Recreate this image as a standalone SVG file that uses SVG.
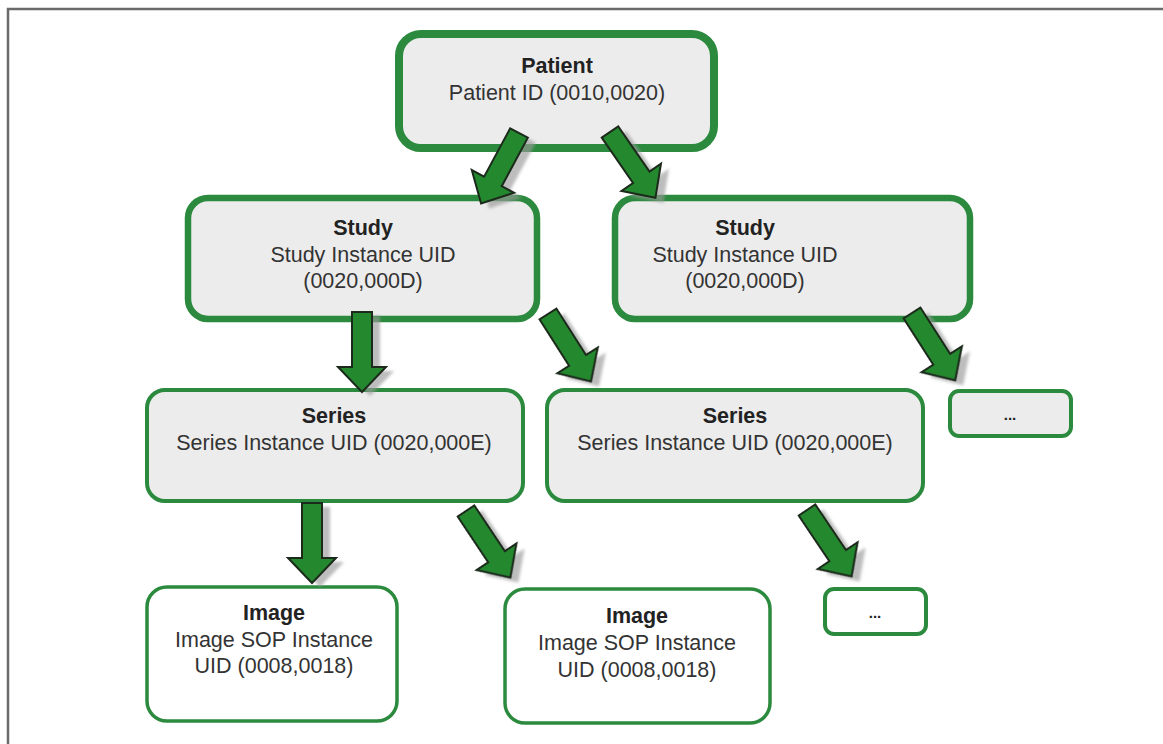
<svg xmlns="http://www.w3.org/2000/svg" xmlns:xlink="http://www.w3.org/1999/xlink" width="1163" height="744" viewBox="0 0 1163 744">
<style>
.box{fill:#ececec;stroke:#2b8a3e}
.wbox{fill:#ffffff;stroke:#2b8a3e}
.t{font-family:"Liberation Sans",Arial,sans-serif;font-size:21.5px;fill:#333;text-anchor:middle}
.b{font-weight:bold;fill:#222}
.arr{fill:#24892e;stroke:#1b2a1b;stroke-width:2;stroke-linejoin:miter}
.sh{fill:#9a9a9a;opacity:0.65}
</style>
<defs>
<polygon id="a" points="-10,0 10,0 10,55 24,55 0,80 -24,55 -10,55"/>
<filter id="blur" x="-20%" y="-20%" width="140%" height="140%"><feGaussianBlur stdDeviation="1.5"/></filter>
</defs>
<rect width="1163" height="744" fill="#ffffff"/>
<path d="M8,744 V9 H1163" fill="none" stroke="#6a6a6a" stroke-width="2.5"/>

<g id="patient">
<rect class="box" x="399" y="34" width="315" height="114" rx="22" stroke-width="8"/>
<text class="t b" x="557" y="73">Patient</text>
<text class="t" x="557" y="100">Patient ID (0010,0020)</text>
</g>
<g id="study1">
<rect class="box" x="188" y="198" width="349" height="121" rx="20" stroke-width="6.5"/>
<text class="t b" x="363" y="235">Study</text>
<text class="t" x="363" y="262">Study Instance UID</text>
<text class="t" x="363" y="288">(0020,000D)</text>
</g>
<g id="study2">
<rect class="box" x="615" y="198" width="355" height="121" rx="20" stroke-width="6.5"/>
<text class="t b" x="745" y="235">Study</text>
<text class="t" x="745" y="262">Study Instance UID</text>
<text class="t" x="745" y="288">(0020,000D)</text>
</g>
<g id="series1">
<rect class="box" x="147" y="390" width="376" height="111" rx="18" stroke-width="4"/>
<text class="t b" x="334" y="423">Series</text>
<text class="t" x="334" y="450">Series Instance UID (0020,000E)</text>
</g>
<g id="series2">
<rect class="box" x="547" y="390" width="376" height="111" rx="18" stroke-width="4"/>
<text class="t b" x="735" y="423">Series</text>
<text class="t" x="735" y="450">Series Instance UID (0020,000E)</text>
</g>
<g id="more1">
<rect class="box" x="950" y="391" width="121" height="45" rx="9" stroke-width="4"/>
<text class="t b" x="1010" y="420" style="font-size:15px">...</text>
</g>
<g id="image1">
<rect class="wbox" x="147" y="587" width="250" height="134" rx="20" stroke-width="3.5"/>
<text class="t b" x="274" y="620">Image</text>
<text class="t" x="274" y="647">Image SOP Instance</text>
<text class="t" x="274" y="673">UID (0008,0018)</text>
</g>
<g id="image2">
<rect class="wbox" x="505" y="589" width="265" height="134" rx="20" stroke-width="3.5"/>
<text class="t b" x="637" y="623">Image</text>
<text class="t" x="637" y="650">Image SOP Instance</text>
<text class="t" x="637" y="677">UID (0008,0018)</text>
</g>
<g id="more2">
<rect class="wbox" x="825" y="589" width="101" height="45" rx="9" stroke-width="4"/>
<text class="t b" x="875" y="618" style="font-size:15px">...</text>
</g>

<g id="connectors">
<g filter="url(#blur)">
<use xlink:href="#a" class="sh" transform="translate(527,138) rotate(28.3)"/>
<use xlink:href="#a" class="sh" transform="translate(618,137) rotate(-34.6)"/>
<use xlink:href="#a" class="sh" transform="translate(370,316)"/>
<use xlink:href="#a" class="sh" transform="translate(556,319) rotate(-32.5)"/>
<use xlink:href="#a" class="sh" transform="translate(920,318) rotate(-32.7)"/>
<use xlink:href="#a" class="sh" transform="translate(320,507)"/>
<use xlink:href="#a" class="sh" transform="translate(474,516) rotate(-33.7)"/>
<use xlink:href="#a" class="sh" transform="translate(815,515) rotate(-33.9)"/>
</g>
<use xlink:href="#a" class="arr" transform="translate(519,133) rotate(28.3)"/>
<use xlink:href="#a" class="arr" transform="translate(610,132) rotate(-34.6)"/>
<use xlink:href="#a" class="arr" transform="translate(362,312)"/>
<use xlink:href="#a" class="arr" transform="translate(548,314) rotate(-32.5)"/>
<use xlink:href="#a" class="arr" transform="translate(912,313) rotate(-32.7)"/>
<use xlink:href="#a" class="arr" transform="translate(312,503)"/>
<use xlink:href="#a" class="arr" transform="translate(466,511) rotate(-33.7)"/>
<use xlink:href="#a" class="arr" transform="translate(807,510) rotate(-33.9)"/>
</g>
</svg>
